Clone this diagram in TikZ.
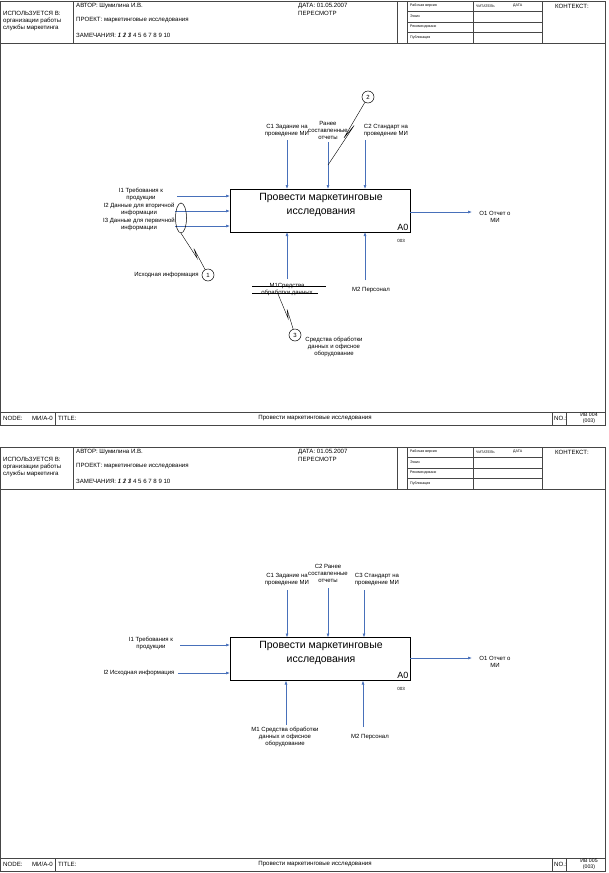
\documentclass[tikz,border=0pt]{standalone}
\usepackage{fontspec}
\setmainfont{Liberation Sans}
\usetikzlibrary{arrows.meta,positioning,shapes.geometric,calc}

\definecolor{arrowblue}{RGB}{72,112,186}
\definecolor{framegray}{RGB}{70,70,70}

\newcommand{\lblfont}{\fontsize{6}{7}\selectfont}
\newcommand{\hdrfont}{\fontsize{6.1}{7}\selectfont}
\newcommand{\tblfont}{\fontsize{3.6}{4.5}\selectfont}
\newcommand{\ttlfont}{\fontsize{10.5}{14}\selectfont}
\newcommand{\crossed}[1]{\ooalign{\itshape#1\cr\hidewidth/\hidewidth}}
% callout line with a small zigzag in the middle
\newcommand{\squig}[2]{\draw[callout] (#1) -- ($(#1)!0.6!(#2)$) -- ($(#1)!0.4!(#2)!2.5pt!90:(#2)$) -- (#2);}

\begin{document}
\begin{tikzpicture}[x=1pt,y=-1pt,
    lbl/.style={font=\lblfont, align=center, inner sep=0pt},
    hdr/.style={font=\hdrfont, anchor=west, inner sep=0pt},
    tbl/.style={font=\tblfont, anchor=west, inner sep=0pt},
    flow/.style={draw=arrowblue, line width=0.6pt, -{Latex[length=4pt,width=3pt]}},
    actbox/.style={draw, line width=0.7pt, minimum width=180pt, minimum height=43pt, inner sep=0pt, outer sep=0pt},
    acttitle/.style={font=\ttlfont, align=center, inner sep=0pt},
    callout/.style={draw, line width=0.4pt},
    calltag/.style={circle, draw, line width=0.5pt, minimum size=12pt, inner sep=0pt, font=\lblfont},
    framelines/.style={draw=framegray, line width=0.5pt}]

  \useasboundingbox (0,0) rectangle (608,873);

  % ---- the two IDEF0 forms: header and footer ----
  \foreach \oy/\no in {0/004,446/005}{
  \begin{scope}[shift={(0,\oy)}]
    \draw[framelines] (0.5,1) rectangle (605,425);
    \draw[framelines] (0.5,43) -- (605,43);
    \draw[framelines] (0.5,412) -- (605,412);
    \draw[framelines] (73,1) -- (73,43);
    \draw[framelines] (397,1) -- (397,43);
    \draw[framelines] (407,1) -- (407,43);
    \draw[framelines] (473,1) -- (473,43);
    \draw[framelines] (542,1) -- (542,43);
    \draw[framelines] (407,11) -- (542,11);
    \draw[framelines] (407,22) -- (542,22);
    \draw[framelines] (407,32) -- (542,32);
    \draw[framelines] (55,412) -- (55,425);
    \draw[framelines] (552,412) -- (552,425);
    \draw[framelines] (566,412) -- (566,425);

    \node[hdr, align=left] (usedat) at (3,21) {ИСПОЛЬЗУЕТСЯ В:\\организации работы\\службы маркетинга};
    \node[hdr] (author) at (76,6) {АВТОР: Шумилина И.В.};
    \node[hdr] (project) at (76,20) {ПРОЕКТ: маркетинговые исследования};
    \node[hdr] (notes) at (76,35) {ЗАМЕЧАНИЯ: \crossed{1} \crossed{2} \crossed{3} 4 5 6 7 8 9 10};
    \node[hdr] (date) at (298,6) {ДАТА: 01.05.2007};
    \node[hdr] (rev) at (298,13) {ПЕРЕСМОТР};
    \node[tbl] (working) at (410,6) {Рабочая версия};
    \node[tbl] (draft) at (410,16.5) {Эскиз};
    \node[tbl] (recom) at (410,27) {Рекомендовано};
    \node[tbl] (publ) at (410,37.5) {Публикация};
    \node[tbl] (reader) at (476,6) {ЧИТАТЕЛЬ};
    \node[tbl] (rdate) at (513,6) {ДАТА};
    \node[hdr] (context) at (555,6.5) {КОНТЕКСТ:};

    \node[hdr] (nodelbl) at (3,418.5) {NODE:};
    \node[hdr, anchor=east] (nodeno) at (53,418.5) {МИ/А-0};
    \node[hdr] (titlelbl) at (58,418.5) {TITLE:};
    \node[hdr, anchor=center] (title) at (315,418.5) {Провести маркетинговые исследования};
    \node[hdr] (nolbl) at (554,418.5) {NO.:};
    \node[lbl, font=\fontsize{5.2}{6}\selectfont] (number) at (589,418.5) {ИВ \no\\(003)};
  \end{scope}
  }

  % ---- upper diagram ----
  \node[actbox] (a0) at (320,210.5) {};
  \node[acttitle] (a0ttl) at (321,205) {Провести маркетинговые\\исследования};
  \node[anchor=south east, font=\fontsize{9}{10}\selectfont, inner sep=1.5pt] (a0num) at (a0.south east) {A0};
  \node[lbl, font=\fontsize{4.5}{5}\selectfont] (a0ref) at (401,241) {003};

  \node[lbl] (ac1) at (287,131) {C1 Задание на\\проведение МИ};
  \coordinate (ac1in) at (287,140);
  \draw[flow] (ac1in) -- (ac1in |- a0.north);
  \node[lbl] (ar2) at (328,130) {Ранее\\составленные\\отчеты};
  \coordinate (ar2in) at (328,142);
  \draw[flow] (ar2in) -- (ar2in |- a0.north);
  \node[lbl] (ac2) at (386,131) {C2 Стандарт на\\проведение МИ};
  \coordinate (ac2in) at (365,140);
  \draw[flow] (ac2in) -- (ac2in |- a0.north);

  \node[lbl] (ai1) at (141,194) {I1 Требования к\\продукции};
  \coordinate (ai1in) at (177,196);
  \draw[flow] (ai1in) -- (ai1in -| a0.west);
  \node[lbl] (ai2) at (139,209.5) {I2 Данные для вторичной\\информации};
  \coordinate (ai2in) at (175,211);
  \draw[flow] (ai2in) -- (ai2in -| a0.west);
  \node[lbl] (ai3) at (139,224.5) {I3 Данные для первичной\\информации};
  \coordinate (ai3in) at (175,226);
  \draw[flow] (ai3in) -- (ai3in -| a0.west);

  \node[lbl] (ao1) at (495,217) {O1 Отчет о\\МИ};
  \coordinate (ao1out) at (472,212);
  \draw[flow] (ao1out -| a0.east) -- (ao1out);

  \node[lbl] (am1) at (287,289.5) {M1Средства\\обработки данных};
  \draw[line width=0.4pt] (252,286) -- (326,286);
  \draw[line width=0.4pt] (252,293) -- (318,293);
  \coordinate (am1in) at (287,279);
  \draw[flow] (am1in) -- (am1in |- a0.south);
  \node[lbl] (am2) at (371,290) {M2 Персонал};
  \coordinate (am2in) at (365,280);
  \draw[flow] (am2in) -- (am2in |- a0.south);

  % tunnel callouts
  \node[ellipse, draw, line width=0.5pt, minimum width=11pt, minimum height=30pt, inner sep=0pt] (agrp) at (181,218) {};
  \node[calltag] (at1) at (208,275) {1};
  \node[lbl, left=3pt of at1] (at1lbl) {Исходная информация};
  \squig{agrp.south}{at1}
  \node[calltag] (at2) at (368,97) {2};
  \coordinate (ar2end) at (328,165);
  \squig{at2}{ar2end}
  \coordinate (am1c) at (278,294);
  \node[calltag] (at3) at (295,335) {3};
  \node[lbl] (at3lbl) at (334,347) {Средства обработки\\данных и офисное\\оборудование};
  \squig{am1c}{at3}

  % ---- lower diagram ----
  \node[actbox] (b0) at (320,659) {};
  \node[acttitle] (b0ttl) at (321,653) {Провести маркетинговые\\исследования};
  \node[anchor=south east, font=\fontsize{9}{10}\selectfont, inner sep=1.5pt] (b0num) at (b0.south east) {A0};
  \node[lbl, font=\fontsize{4.5}{5}\selectfont] (b0ref) at (401,689) {003};

  \node[lbl] (bc1) at (287,579.5) {C1 Задание на\\проведение МИ};
  \coordinate (bc1in) at (287,590);
  \draw[flow] (bc1in) -- (bc1in |- b0.north);
  \node[lbl] (bc2) at (328,573) {C2 Ранее\\составленные\\отчеты};
  \coordinate (bc2in) at (328,588);
  \draw[flow] (bc2in) -- (bc2in |- b0.north);
  \node[lbl] (bc3) at (377,579.5) {C3 Стандарт на\\проведение МИ};
  \coordinate (bc3in) at (364,590);
  \draw[flow] (bc3in) -- (bc3in |- b0.north);

  \node[lbl] (bi1) at (151,643.5) {I1 Требования к\\продукции};
  \coordinate (bi1in) at (180,645);
  \draw[flow] (bi1in) -- (bi1in -| b0.west);
  \node[lbl] (bi2) at (139,673) {I2 Исходная информация};
  \coordinate (bi2in) at (178,673);
  \draw[flow] (bi2in) -- (bi2in -| b0.west);

  \node[lbl] (bo1) at (495,662) {O1 Отчет о\\МИ};
  \coordinate (bo1out) at (472,658);
  \draw[flow] (bo1out -| b0.east) -- (bo1out);

  \node[lbl] (bm1) at (285,737) {M1 Средства обработки\\данных и офисное\\оборудование};
  \coordinate (bm1in) at (286,725);
  \draw[flow] (bm1in) -- (bm1in |- b0.south);
  \node[lbl] (bm2) at (370,737) {M2 Персонал};
  \coordinate (bm2in) at (363,727);
  \draw[flow] (bm2in) -- (bm2in |- b0.south);
\end{tikzpicture}
\end{document}
